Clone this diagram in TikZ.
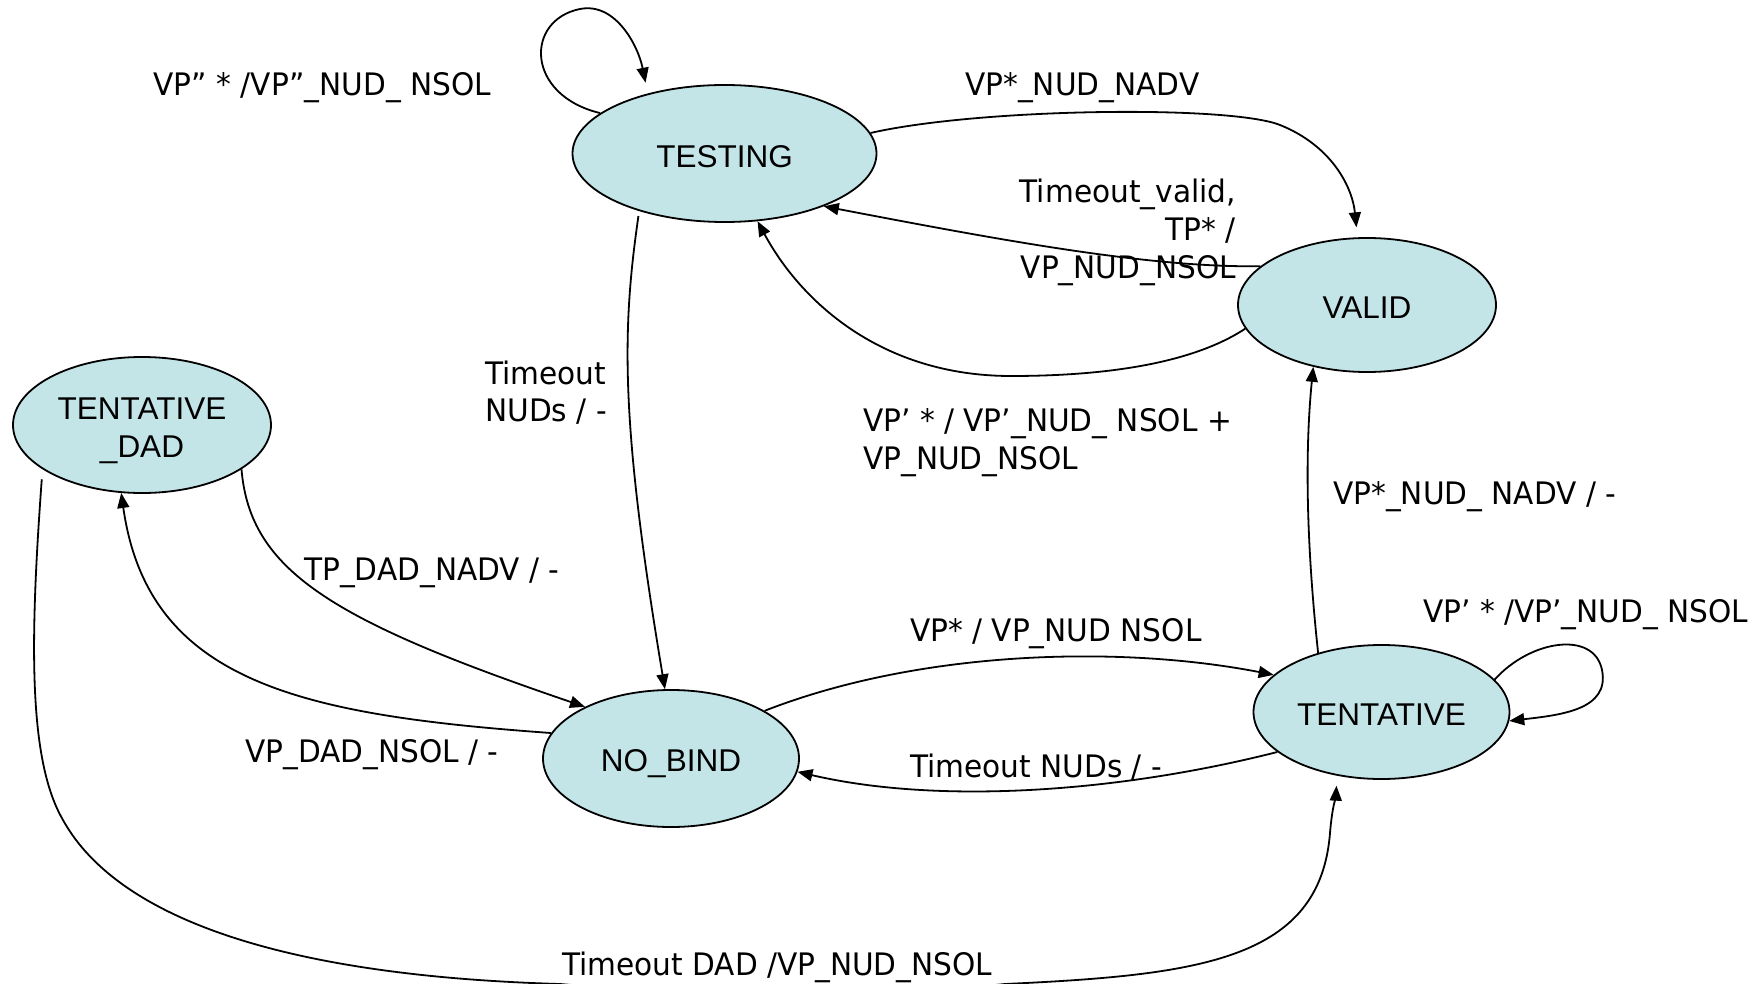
\documentclass[tikz,border=0pt]{standalone}
\usepackage{fontspec}
\setmainfont{Liberation Sans}
\newfontfamily\lblfont[FakeStretch=0.955]{DejaVu Sans}
\usetikzlibrary{shapes.geometric,arrows.meta}
\definecolor{statefill}{RGB}{196,229,232}
\begin{document}
\begin{tikzpicture}[x=1pt,y=-1pt,
  stnode/.style={ellipse,draw,line width=1.8pt,fill=statefill,inner sep=0pt,
    font=\fontsize{31.5}{38}\selectfont,text height=27.5pt,text depth=0pt},
  lbl/.style={inner sep=0pt,font=\lblfont\fontsize{31}{38}\selectfont},
  arr/.style={line width=1.8pt,-{Triangle[length=15pt,width=12pt]}}]
\path[use as bounding box] (0,0) rectangle (1762,984);
\clip (0,0) rectangle (1762,984);

% states
\node[stnode,minimum width=304pt,minimum height=137pt] (testing) at (724.5,153.5) {TESTING};
\node[stnode,minimum width=258pt,minimum height=134pt] (valid) at (1367,305) {VALID};
\node[stnode,minimum width=258pt,minimum height=136pt,text height=26.6pt,text depth=38.1pt]
  (dad) at (142,425) {\begin{tabular}[t]{@{}c@{}}TENTATIVE\\\_DAD\end{tabular}};
\node[stnode,minimum width=256pt,minimum height=137pt,text height=25pt] (nobind) at (671,758.5) {NO\_BIND};
\node[stnode,minimum width=256pt,minimum height=134pt] (tent) at (1381.5,712) {TENTATIVE};

% transitions
\draw[arr,shorten >=11pt] (testing.162.6) .. controls (525,95) and (525,20) .. (580,9)
  .. controls (615,2) and (638,45) .. (testing.142.8);
\draw[arr,shorten >=10pt] (testing.8) .. controls (980,108) and (1230,105) .. (1280,125)
  .. controls (1330,145) and (1352,185) .. (valid.98.5);
\draw[arr] (valid.160.7) .. controls (1150,268) and (1000,240) .. (testing.-28.3);
\draw[arr] (valid.-169.2) .. controls (1190,365) and (1100,376) .. (1011,376)
  .. controls (880,376) and (800,300) .. (testing.-64.1);
\draw[arr,shorten <=5pt] (testing.214.9) .. controls (622,330) and (620,420) .. (nobind.95.8);
\draw[arr] (dad.-24.3) .. controls (250,570) and (330,620) .. (nobind.149.5);
\draw[arr] (nobind.168.9) .. controls (300,715) and (148,682) .. (dad.-107.4);
\draw[arr,shorten <=10pt,shorten >=10pt] (dad.-156.2) .. controls (30,640) and (28,760) .. (63,820)
  .. controls (110,905) and (250,975) .. (560,984)
  .. controls (700,996) and (870,998) .. (1005,984)
  .. controls (1200,975) and (1320,960) .. (1330,833)
  .. controls (1332,808) and (1336,795) .. (tent.-125.3);
\draw[arr] (nobind.27.4) .. controls (920,650) and (1120,645) .. (tent.161);
\draw[arr] (tent.201.3) .. controls (1120,792) and (940,805) .. (nobind.-6.1);
\draw[arr] (tent.137.5) .. controls (1306,540) and (1305,450) .. (valid.-131.6);
\draw[arr] (tent.16) .. controls (1530,640) and (1594,630) .. (1602,670)
  .. controls (1610,710) and (1560,715) .. (tent.-4.5);

% transition labels
\node[lbl,anchor=base west] (l1) at (153,96) {VP” * /VP”\_NUD\_ NSOL};
\node[lbl,anchor=base west] (l2) at (965,96) {VP*\_NUD\_NADV};
\node[lbl,anchor=base east] (l3) at (1236,203)
  {\begin{tabular}[t]{@{}r@{}}Timeout\_valid,\\TP* /\\VP\_NUD\_NSOL\end{tabular}};
\node[lbl,anchor=base west] (l4) at (485,384)
  {\begin{tabular}[t]{@{}l@{}}Timeout\\NUDs / -\end{tabular}};
\node[lbl,anchor=base west] (l5) at (863,431)
  {\begin{tabular}[t]{@{}l@{}}VP’ * / VP’\_NUD\_ NSOL +\\VP\_NUD\_NSOL\end{tabular}};
\node[lbl,anchor=base west] (l6) at (1333,504) {VP*\_NUD\_ NADV / -};
\node[lbl,anchor=base west] (l7) at (304,580) {TP\_DAD\_NADV / -};
\node[lbl,anchor=base west] (l8) at (910,641) {VP* / VP\_NUD NSOL};
\node[lbl,anchor=base west] (l9) at (1423,622) {VP’ * /VP’\_NUD\_ NSOL};
\node[lbl,anchor=base west] (l10) at (245,762) {VP\_DAD\_NSOL / -};
\node[lbl,anchor=base west] (l11) at (910,777) {Timeout NUDs / -};
\node[lbl,anchor=base west] (l12) at (562,975) {Timeout DAD /VP\_NUD\_NSOL};
\end{tikzpicture}
\end{document}
